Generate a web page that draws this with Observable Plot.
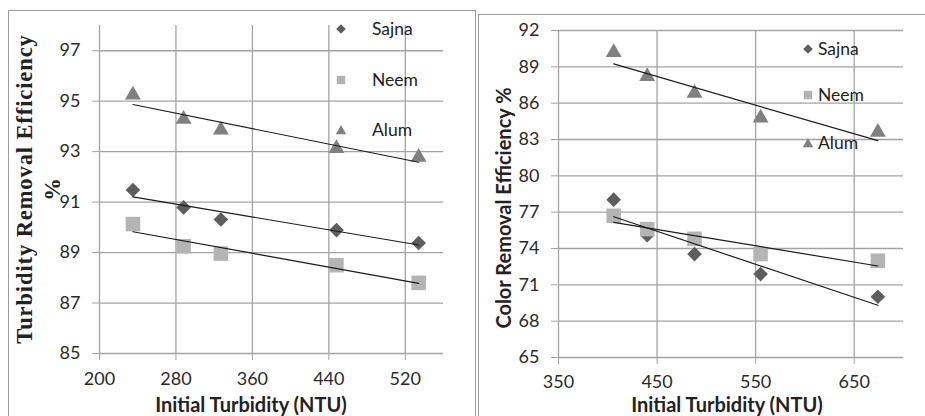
<!DOCTYPE html>
<html><head><meta charset="utf-8">
<script src="https://cdn.jsdelivr.net/npm/d3@7"></script>
<script src="https://cdn.jsdelivr.net/npm/@observablehq/plot@0.6"></script>
<style>
body{margin:0;background:#fff;}
#wrap{position:relative;width:925px;height:416px;overflow:hidden;background:#fff;font-family:Lato,sans-serif;}
.frame{position:absolute;border:1.5px solid #9c9c9c;box-sizing:border-box;}
.rot{position:absolute;transform:rotate(-90deg);text-align:center;white-space:nowrap;}
.leg{position:absolute;font-size:17.5px;color:#222;line-height:18px;white-space:nowrap;}
</style></head>
<body><div id="wrap"></div>
<script>
// ---- data ----
const series = ["Sajna", "Neem", "Alum"];
// Left chart: Turbidity removal
const turbX = [235, 288, 327, 448, 534];
const turbSajna = [91.48, 90.79, 90.31, 89.89, 89.38];
const turbNeem = [90.13, 89.25, 88.96, 88.5, 87.8];
const turbAlum = [95.25, 94.29, 93.86, 93.13, 92.78];
const turbXTicks = [200, 280, 360, 440, 520];
const turbYTicks = [85, 87, 89, 91, 93, 95, 97];
// Right chart: Color removal
const colorX = [406, 440, 488, 555, 674];
const colorSajna = [78.03, 75.1, 73.54, 71.89, 70.02];
const colorNeem = [76.7, 75.6, 74.8, 73.54, 72.99];
const colorAlum = [90.2, 88.2, 86.82, 84.78, 83.6];
const colorXTicks = [350, 450, 550, 650];
const colorYTicks = [65, 68, 71, 74, 77, 80, 83, 86, 89, 92];

const fills = {Sajna: "#5e5e5e", Neem: "#b4b4b4", Alum: "#808080"};
const symbols = {Sajna: "diamond2", Neem: "square", Alum: "triangle"};
const radii = {Sajna: 6.6, Neem: 8.2, Alum: 5.9};
const gridColor = "#a3a3a3";

function rows(xs, lists) {
  const out = [];
  series.forEach((s, i) => xs.forEach((x, j) => out.push({series: s, x, y: lists[i][j]})));
  return out;
}

function makeChart(data, xDomain, yDomain, xTicks, yTicks, w, m, xPad) {
  const marks = [
    Plot.gridX(xTicks, {stroke: gridColor, strokeOpacity: 1, strokeWidth: 1.3}),
    Plot.gridY(yTicks, {stroke: gridColor, strokeOpacity: 1, strokeWidth: 1.3}),
    Plot.axisX(xTicks, {tickSize: 7, tickPadding: xPad, stroke: gridColor, fill: "#2a2a2a", fontSize: 18, label: null}),
    Plot.axisY(yTicks, {tickSize: 7, tickPadding: 12, stroke: gridColor, fill: "#2a2a2a", fontSize: 18, label: null})
  ];
  for (const s of series) {
    marks.push(Plot.dot(data.filter(d => d.series === s), {x: "x", y: "y", symbol: () => symbols[s], r: radii[s], fill: fills[s], stroke: "none"}));
  }
  for (const s of series) {
    marks.push(Plot.linearRegressionY(data.filter(d => d.series === s), {x: "x", y: "y", ci: 0, stroke: "#1c1c1c", strokeWidth: 1.2}));
  }
  return Plot.plot({
    width: w, height: 416,
    marginLeft: m[0], marginRight: m[1], marginTop: m[2], marginBottom: m[3],
    x: {domain: xDomain}, y: {domain: yDomain},
    symbol: {type: "identity"},
    style: {fontFamily: "Lato, sans-serif", fontSize: "18px", background: "transparent", color: "#2a2a2a"},
    marks
  });
}

const wrap = document.getElementById("wrap");
function add(html, css) { const d = document.createElement("div"); d.innerHTML = html; Object.assign(d.style, css); wrap.appendChild(d); return d; }

// frames
const f1 = document.createElement("div"); f1.className = "frame"; Object.assign(f1.style, {left: "8px", top: "10px", width: "468px", height: "440px"}); wrap.appendChild(f1);
const f2 = document.createElement("div"); f2.className = "frame"; Object.assign(f2.style, {left: "478px", top: "14px", width: "470px", height: "440px"}); wrap.appendChild(f2);

const left = makeChart(rows(turbX, [turbSajna, turbNeem, turbAlum]), [200, 560], [85, 98], turbXTicks, turbYTicks, 470, [99, 27, 25, 63], 12);
left.style.position = "absolute"; left.style.left = "0px"; left.style.top = "0px";
wrap.appendChild(left);
const right = makeChart(rows(colorX, [colorSajna, colorNeem, colorAlum]), [350, 700], [65, 92], colorXTicks, colorYTicks, 465, [98, 22, 30, 59], 11);
right.style.position = "absolute"; right.style.left = "460px"; right.style.top = "0px";
wrap.appendChild(right);

// titles
function rotText(text, cx, cy, w, h, css) {
  const d = document.createElement("div"); d.className = "rot"; d.innerHTML = text;
  Object.assign(d.style, {left: (cx - w / 2) + "px", top: (cy - h / 2) + "px", width: w + "px", height: h + "px"}, css);
  wrap.appendChild(d);
}
rotText("Turbidity Removal Efficiency<br>%", 39, 189, 340, 56, {fontFamily: "'Liberation Serif', serif", fontWeight: "bold", fontSize: "22.5px", lineHeight: "28px", color: "#222", letterSpacing: "0.9px"});
rotText("Color Removal Efficiency %", 503, 208, 280, 22, {fontFamily: "Lato, sans-serif", fontWeight: "bold", fontSize: "20px", lineHeight: "22px", color: "#222"});
add("Initial Turbidity (NTU)", {position: "absolute", left: "141px", width: "220px", top: "392px", lineHeight: "24px", textAlign: "center", fontWeight: "bold", fontSize: "20px", color: "#222", whiteSpace: "nowrap"});
add("Initial Turbidity (NTU)", {position: "absolute", left: "617px", width: "220px", top: "392px", lineHeight: "24px", textAlign: "center", fontWeight: "bold", fontSize: "20px", color: "#222", whiteSpace: "nowrap"});

// legends
const legSym = {
  Sajna: '<svg width="12" height="12" viewBox="-6 -6 12 12"><path d="M0,-4.8L4.8,0L0,4.8L-4.8,0Z" fill="#5e5e5e"/></svg>',
  Neem: '<svg width="12" height="12" viewBox="-6 -6 12 12"><rect x="-4.2" y="-4.2" width="8.4" height="8.4" fill="#b4b4b4"/></svg>',
  Alum: '<svg width="12" height="12" viewBox="-6 -6 12 12"><path d="M0,-5L5.2,4.2L-5.2,4.2Z" fill="#808080"/></svg>'
};
function legend(symX, textX, ys) {
  series.forEach((s, i) => {
    add(legSym[s], {position: "absolute", left: (symX - 6) + "px", top: (ys[i] - 6) + "px", width: "12px", height: "12px", lineHeight: "0"});
    const t = add(s, {}); t.className = "leg"; t.style.left = textX + "px"; t.style.top = (ys[i] - 9) + "px";
  });
}
legend(341, 372, [28.5, 79.5, 130]);
legend(808, 818, [48.5, 95, 142.5]);
</script></body></html>
